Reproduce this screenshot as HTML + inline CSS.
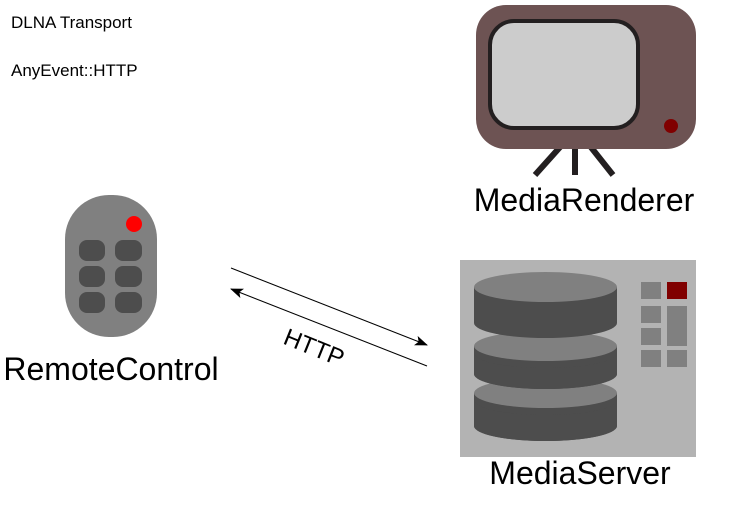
<!DOCTYPE html>
<html><head><meta charset="utf-8"><style>html,body{margin:0;padding:0;background:#fff;}svg{display:block}</style></head>
<body>
<svg width="744" height="520" viewBox="0 0 744 520" xmlns="http://www.w3.org/2000/svg" font-family="Liberation Sans, Arial, sans-serif">
<defs><marker id="ah" markerWidth="13" markerHeight="10" refX="12" refY="5" orient="auto" markerUnits="userSpaceOnUse"><path d="M0,0 L13,5 L0,10 L3,5 z" fill="#000"/></marker></defs>
<text x="11" y="28" font-size="17" fill="#000">DLNA Transport</text>
<text x="11" y="76" font-size="17" fill="#000">AnyEvent::HTTP</text>
<!-- TV -->
<line x1="561" y1="146" x2="535" y2="175" stroke="#231f20" stroke-width="6"/>
<line x1="575" y1="146" x2="575" y2="175" stroke="#231f20" stroke-width="6"/>
<line x1="590" y1="146" x2="613" y2="175" stroke="#231f20" stroke-width="6"/>
<rect x="476" y="5" width="220" height="144" rx="30" fill="#6d5353"/>
<rect x="490" y="21" width="148" height="107" rx="24" fill="#cccccc" stroke="#231f20" stroke-width="4"/>
<circle cx="671" cy="126" r="7" fill="#800000"/>
<text x="584" y="211" font-size="32" text-anchor="middle" fill="#000">MediaRenderer</text>
<!-- Server -->
<rect x="460" y="260" width="236" height="197" fill="#b3b3b3"/>
<g>
<path d="M474,393 v33 a71.5,15 0 0 0 143,0 v-33 z" fill="#4d4d4d"/>
<ellipse cx="545.5" cy="393" rx="71.5" ry="15" fill="#808080"/>
<path d="M474,400 a71.5,15 0 0 0 143,0 v26 a71.5,15 0 0 1 -143,0z" fill="#4d4d4d"/>
<path d="M474,346 v28 a71.5,15 0 0 0 143,0 v-28 z" fill="#4d4d4d"/>
<ellipse cx="545.5" cy="346" rx="71.5" ry="15" fill="#808080"/>
<path d="M474,353 a71.5,15 0 0 0 143,0 v21 a71.5,15 0 0 1 -143,0z" fill="#4d4d4d"/>
<path d="M474,287 v36 a71.5,15 0 0 0 143,0 v-36 z" fill="#4d4d4d"/>
<ellipse cx="545.5" cy="287" rx="71.5" ry="15" fill="#808080"/>
</g>
<g fill="#808080">
<rect x="641" y="282" width="20" height="17"/>
<rect x="641" y="306" width="20" height="17"/>
<rect x="667" y="306" width="20" height="40"/>
<rect x="641" y="328" width="20" height="17"/>
<rect x="641" y="350" width="20" height="17"/>
<rect x="667" y="350" width="20" height="17"/>
</g>
<rect x="667" y="282" width="20" height="17" fill="#800000"/>
<text x="580" y="484" font-size="32" text-anchor="middle" fill="#000">MediaServer</text>
<!-- Remote -->
<rect x="65" y="195" width="92" height="142" rx="44" fill="#808080"/>
<circle cx="134" cy="224" r="8" fill="#ff0000"/>
<g fill="#4d4d4d">
<rect x="79" y="240" width="26" height="21" rx="8"/>
<rect x="115" y="240" width="27" height="21" rx="8"/>
<rect x="79" y="266" width="26" height="21" rx="8"/>
<rect x="115" y="266" width="27" height="21" rx="8"/>
<rect x="79" y="292" width="26" height="21" rx="8"/>
<rect x="115" y="292" width="27" height="21" rx="8"/>
</g>
<text x="111" y="380" font-size="32" text-anchor="middle" fill="#000">RemoteControl</text>
<!-- Arrows -->
<line x1="231" y1="268" x2="427" y2="345" stroke="#000" stroke-width="1" marker-end="url(#ah)"/>
<line x1="427" y1="366" x2="231" y2="289" stroke="#000" stroke-width="1" marker-end="url(#ah)"/>
<text x="0" y="0" font-size="24" text-anchor="middle" fill="#000" transform="translate(311,355) rotate(22)">HTTP</text>
</svg>
</body></html>
